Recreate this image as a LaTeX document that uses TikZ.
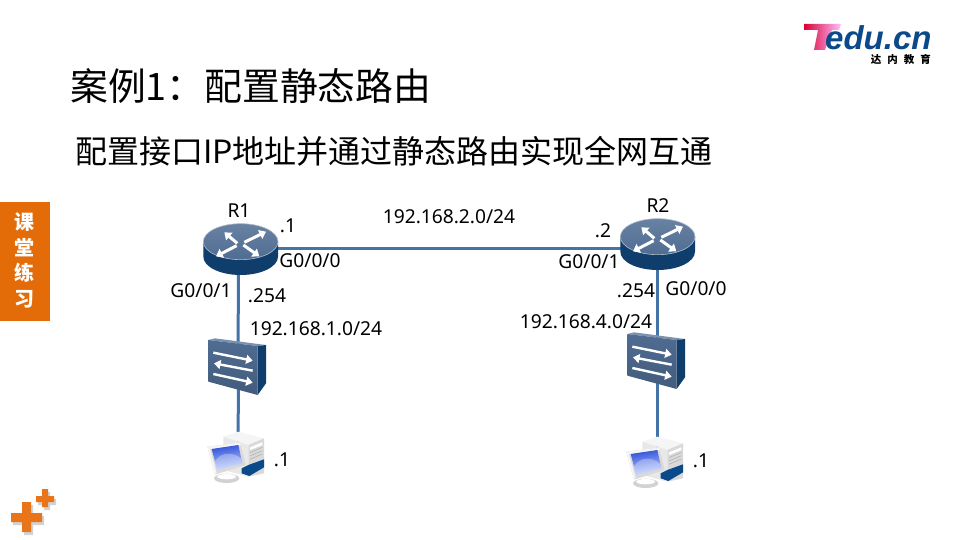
\documentclass[tikz,border=0pt]{standalone}
\usepackage{fontspec}
\setmainfont{Noto Sans}
\newfontfamily\cjk{Noto Sans CJK SC}
\usetikzlibrary{arrows.meta,shadows}
\definecolor{linkblue}{HTML}{4473A8}
\definecolor{devtop}{HTML}{4F6C92}
\definecolor{devdark}{HTML}{0F3E6C}
\definecolor{tabor}{HTML}{E36C09}
\definecolor{plusor}{HTML}{E8751A}
\definecolor{navy}{HTML}{0B4A8A}
\definecolor{scrdark}{HTML}{3050D8}
\definecolor{scrlight}{HTML}{C4D4FF}
\tikzset{
  x=1pt,y=-1pt,
  link/.style={draw=linkblue,line width=3pt},
  lab/.style={font=\fontsize{19.2}{20}\selectfont,text=black,inner sep=0pt},
  whitearrow/.style={draw=white,line width=3,-{Triangle[width=9.5,length=6.5]}},
  swarrow/.style={draw=white,line width=2.4,-{Triangle[width=9,length=6.5]}},
  router/.pic={
    \begin{scope}[x=.3333pt,y=-.3333pt,shift={(-150,-144)}]
      \fill[devdark] (40,140) -- (40,185) arc[start angle=180,end angle=0,x radius=112,y radius=55] -- (264,140) -- cycle;
      \shade[top color=devtop!85!white,bottom color=devtop,draw=devtop!45!white,line width=.6] (152,140) ellipse[x radius=112,y radius=54];
      \draw[whitearrow] (142,145) -- (103,112);
      \draw[whitearrow] (163,142) -- (228,110);
      \draw[whitearrow] (140,152) -- (78,184);
      \draw[whitearrow] (160,150) -- (208,184);
    \end{scope}
  },
  switchbox/.pic={
    \begin{scope}[x=.3333pt,y=-.3333pt,shift={(-144,-114)}]
      \fill[devtop!75!white] (55,30) -- (75,25) -- (228,45) -- (203,48) -- cycle;
      \fill[devdark] (203,48) -- (228,45) -- (228,160) -- (203,195) -- cycle;
      \shade[top color=devtop,bottom color=devtop!85!black] (55,30) -- (203,48) -- (203,195) -- (55,155) -- cycle;
      \draw[swarrow] (70,68) -- (188,92);
      \draw[swarrow] (188,122) -- (72,100);
      \draw[swarrow] (70,132) -- (188,158);
    \end{scope}
  },
  pcbox/.pic={
    \begin{scope}[x=.3333pt,y=-.3333pt,shift={(-144,-384)}]
      \fill[gray!8] (100,320) -- (145,305) -- (222,325) -- (175,345) -- cycle;
      \fill[gray!18] (100,320) -- (175,345) -- (175,440) -- (100,420) -- cycle;
      \fill[gray!30] (175,345) -- (222,325) -- (222,430) -- (175,440) -- cycle;
      \fill[white] (180,352) -- (217,337) -- (217,345) -- (180,360) -- cycle;
      \draw[gray!65,line width=.5] (180,368) -- (217,352) (180,378) -- (217,362) (180,388) -- (217,372);
      \fill[navy] (155,415) -- (175,405) -- (222,388) -- (222,412) -- (178,438) -- (155,430) -- cycle;
      \fill[gray!35] (110,445) ellipse[x radius=38,y radius=14];
      \fill[white] (110,440) ellipse[x radius=28,y radius=8];
      \fill[gray!30] (52,350) -- (150,338) -- (167,405) -- (75,434) -- cycle;
      \fill[gray!8] (52,350) -- (150,338) -- (153,345) -- (60,358) -- (80,428) -- (75,434) -- cycle;
      \shade[top color=scrdark,bottom color=scrlight,shading angle=10] (65,357) -- (145,345) -- (157,400) -- (82,420) -- cycle;
      \fill[white,opacity=.3] (75,395) .. controls (90,365) and (130,365) .. (152,385) -- (157,400) -- (82,420) -- cycle;
    \end{scope}
  }
}
\begin{document}
\begin{tikzpicture}
\useasboundingbox (0,0) rectangle (960,540);
\fill[white] (0,0) rectangle (960,540);
% positions
\coordinate (r1) at (240,243);
\coordinate (r2) at (657,238);
\coordinate (sw1) at (238,368);
\coordinate (sw2) at (657,362);
\coordinate (pc1) at (238,458);
\coordinate (pc2) at (657,463);
% connectors
\draw[link] (r1) ++(0,5) coordinate (a1) -- (a1 -| r2);
\draw[link] (238.5,258) -- (sw1);
\draw[link] (238.5,368) -- (pc1);
\draw[link] (r2) -- (sw2);
\draw[link] (sw2) -- (pc2);
% devices
\pic at (r1) {router};
\pic at (r2) {router};
\pic at (sw1) {switchbox};
\pic at (sw2) {switchbox};
\pic at (pc1) {pcbox};
\pic at (pc2) {pcbox};
% labels
\node[lab] (lr1) at (239,211) {R1};
\node[lab] (lr2) at (658,206) {R2};
\node[lab] (t1) at (288,225.5) {.1};
\node[lab] (t2) at (603,230.5) {.2};
\node[lab] (t3) at (310,261) {G0/0/0};
\node[lab] (t4) at (589,262) {G0/0/1};
\node[lab] (t5) at (201,291) {G0/0/1};
\node[lab] (t6) at (267,296) {.254};
\node[lab] (t7) at (636,291) {.254};
\node[lab] (t8) at (696,289) {G0/0/0};
\node[lab] (n1) at (316,329) {192.168.1.0/24};
\node[lab] (n2) at (449,217) {192.168.2.0/24};
\node[lab] (n4) at (586,322) {192.168.4.0/24};
\node[lab] (h1) at (282,460) {.1};
\node[lab] (h2) at (701,461) {.1};
% titles
\node[anchor=west,inner sep=0pt,font=\cjk\fontsize{37.8}{40}\selectfont] (title) at (70,86) {案例1：配置静态路由};
\node[anchor=west,inner sep=0pt,font=\cjk\fontsize{32}{36}\selectfont] (sub) at (75,151) {配置接口IP地址并通过静态路由实现全网互通};
% side tab
\fill[tabor] (0,202) rectangle (50,321);
\foreach \c/\y/\n in {课/222/a,堂/248/b,练/273/c,习/299/d}
  \node[inner sep=0pt,text=white,font=\cjk\bfseries\fontsize{20}{20}\selectfont] (tab\n) at (24,\y) {\c};
% plus marks
\fill[gray!35] (13,516) rectangle (44,525) (24,505) rectangle (33,535);
\fill[gray!35] (38,499) rectangle (56,505) (44,492) rectangle (50,510);
\fill[plusor] (11,513) rectangle (42,522) (22,502) rectangle (31,532);
\fill[plusor] (36,496) rectangle (54,502) (42,489) rectangle (48,507);
% logo
\shade[left color=red!75!magenta!85!black,right color=magenta!25!white] (804,24) -- (841,24) -- (839,30) -- (832,30) -- (825,50) -- (814,50) -- (818,30) -- (804,30) -- cycle;
\node[anchor=base west,inner sep=0pt,text=navy,font=\fontspec{Liberation Sans}\bfseries\itshape\fontsize{33}{33}\selectfont] (logo) at (825,49.5) {edu.cn};
\node[anchor=east,inner sep=0pt,text=black,font=\cjk\bfseries\fontsize{10.5}{12}\selectfont] (logosub) at (931,59) {达\hspace{6pt}内\hspace{6pt}教\hspace{6pt}育};
\end{tikzpicture}
\end{document}
